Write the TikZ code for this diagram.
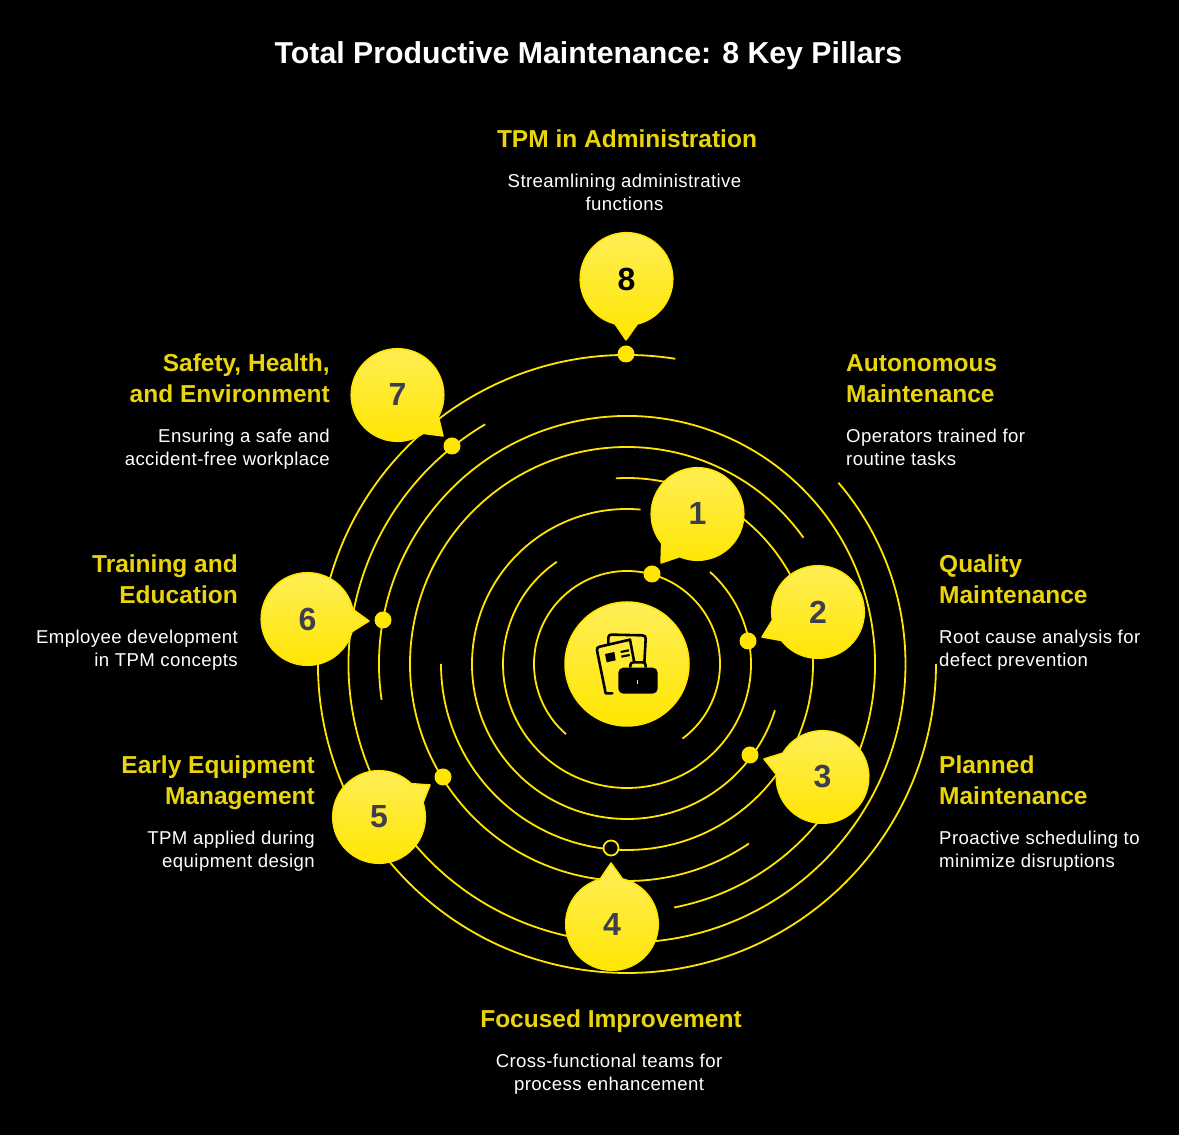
\documentclass[tikz,border=0pt]{standalone}
\usepackage{fontspec}
\setmainfont{Liberation Sans}
\newfontfamily\bodyfont[LetterSpace=2.2]{Liberation Sans}
\definecolor{ringyellow}{HTML}{FFE600}
\definecolor{lightyellow}{HTML}{FFEE58}
\definecolor{headyellow}{HTML}{EAD40C}
\definecolor{numgray}{HTML}{3E3F4C}
\tikzset{
  ringline/.style={draw=ringyellow,line width=1.8pt},
  bubblefill/.style={top color=lightyellow,bottom color=ringyellow,draw=ringyellow,line width=1.5pt,line join=round},
  numlabel/.style={font=\fontsize{32}{32}\selectfont\bfseries,text=numgray,inner sep=0pt},
  headlabel/.style={font=\fontsize{24.5}{31}\selectfont\bfseries,text=headyellow,inner sep=0pt},
  bodylabel/.style={font=\bodyfont\fontsize{18.6}{23}\selectfont,text=white,inner sep=0pt},
  dotmark/.style={circle,fill=ringyellow,inner sep=0pt,minimum size=17pt},
  icondraw/.style={draw=black,line width=2.6pt,line join=round,line cap=round},
}
\newcommand{\ringarc}[3]{\draw[ringline] (c)++(#2:#1) arc[start angle=#2,end angle=#3,radius=#1];}
\newcommand{\bubble}[6]{%
  \pgfmathsetmacro{\tipang}{atan2(#5-#3,#4-#2)}
  \coordinate (tip#1) at (#4,#5);
  \path[bubblefill] (#2,#3)++(\tipang+14:46.3) arc[start angle=\tipang+14,delta angle=332,radius=46.3] -- (tip#1) -- cycle;
  \node[numlabel,#6] (num#1) at (#2,#3) {#1};
}
\begin{document}
\begin{tikzpicture}[x=1pt,y=1pt]
\useasboundingbox (0,0) rectangle (1179,1135);
\fill[black] (0,0) rectangle (1179,1135);
\coordinate (c) at (627,471);
% rings
\ringarc{93}{-53.4}{229}
\ringarc{124}{124.5}{408}
\ringarc{155}{85}{342.6}
\ringarc{186}{180}{453.4}
\ringarc{217}{35.6}{304.2}
\ringarc{248}{-79}{188.3}
\ringarc{278.5}{120.6}{400.6}
\ringarc{309}{81}{360}
% dots
\node[dotmark] (d1) at (652,561) {};
\node[dotmark] (d2) at (748,494) {};
\node[dotmark] (d3) at (750,380) {};
\node[circle,fill=black,draw=ringyellow,line width=1.8pt,inner sep=0pt,minimum size=15pt] (d4) at (611,287) {};
\node[dotmark] (d5) at (443,358) {};
\node[dotmark] (d6) at (383,515) {};
\node[dotmark] (d7) at (452,689) {};
\node[dotmark] (d8) at (626,781) {};
% bubbles
\bubble{1}{697.5}{621}{661}{572}{}
\bubble{2}{818}{523}{762}{498}{}
\bubble{3}{822.5}{358}{764}{376}{}
\bubble{4}{612}{211}{611}{272}{}
\bubble{5}{379}{318}{430}{350}{}
\bubble{6}{307.5}{516}{369}{514}{}
\bubble{7}{397.5}{740}{443}{699}{}
\bubble{8}{626.5}{856}{626}{795}{text=black}
% centre
\path[bubblefill] (c) circle[radius=62];
\begin{scope}[shift={(585,510)},x=0.3333pt,y=-0.3333pt]
  \draw[icondraw] (70,55) -- (70,38) .. controls (70,31) and (74,29) .. (80,29) -- (172,31) .. controls (179,31) and (183,35) .. (182,42) -- (178,115);
  \draw[icondraw] (82,205) -- (62,205) -- (36,76) .. controls (35,69) and (38,66) .. (44,65) -- (135,44) -- (147,108);
  \fill[black] (60,87) -- (88,81) -- (92,106) -- (65,112) -- cycle;
  \draw[black,line width=2.2pt] (107,81) -- (132,76) (109,95) -- (134,90);
  \fill[black,rounded corners=5pt] (100,128) rectangle (218,206);
  \draw[black,line width=2.6pt,rounded corners=3pt] (136,128) -- (136,112) -- (182,112) -- (182,128);
  \draw[lightyellow,line width=1.4pt] (158,166) -- (158,176);
\end{scope}
% texts
\node[font=\fontsize{30.25}{36}\selectfont\bfseries,text=white,inner sep=0pt,anchor=base] (title) at (588.5,1071) {Total Productive Maintenance: 8 Key Pillars};
\node[headlabel,anchor=base] (h8) at (627,987.5) {TPM in Administration};
\node[bodylabel,anchor=base,align=center] (b8) at (624.5,924.3) {Streamlining administrative\\functions};
\node[headlabel,anchor=base west,align=left] (h1) at (846,732.3) {Autonomous\\Maintenance};
\node[bodylabel,anchor=base west,align=left] (b1) at (846,669.3) {Operators trained for\\routine tasks};
\node[headlabel,anchor=base west,align=left] (h2) at (939,531.3) {Quality\\Maintenance};
\node[bodylabel,anchor=base west,align=left] (b2) at (939,468.3) {Root cause analysis for\\defect prevention};
\node[headlabel,anchor=base west,align=left] (h3) at (939,330.3) {Planned\\Maintenance};
\node[bodylabel,anchor=base west,align=left] (b3) at (939,267.3) {Proactive scheduling to\\minimize disruptions};
\node[headlabel,anchor=base] (h4) at (611,107.3) {Focused Improvement};
\node[bodylabel,anchor=base,align=center] (b4) at (609,44.3) {Cross-functional teams for\\process enhancement};
\node[headlabel,anchor=base east,align=right] (h5) at (315,330.3) {Early Equipment\\Management};
\node[bodylabel,anchor=base east,align=right] (b5) at (315,267.3) {TPM applied during\\equipment design};
\node[headlabel,anchor=base east,align=right] (h6) at (238,531.3) {Training and\\Education};
\node[bodylabel,anchor=base east,align=right] (b6) at (238,468.3) {Employee development\\in TPM concepts};
\node[headlabel,anchor=base east,align=right] (h7) at (330,732.3) {Safety, Health,\\and Environment};
\node[bodylabel,anchor=base east,align=right] (b7) at (330,669.3) {Ensuring a safe and\\accident-free workplace};
\end{tikzpicture}
\end{document}
